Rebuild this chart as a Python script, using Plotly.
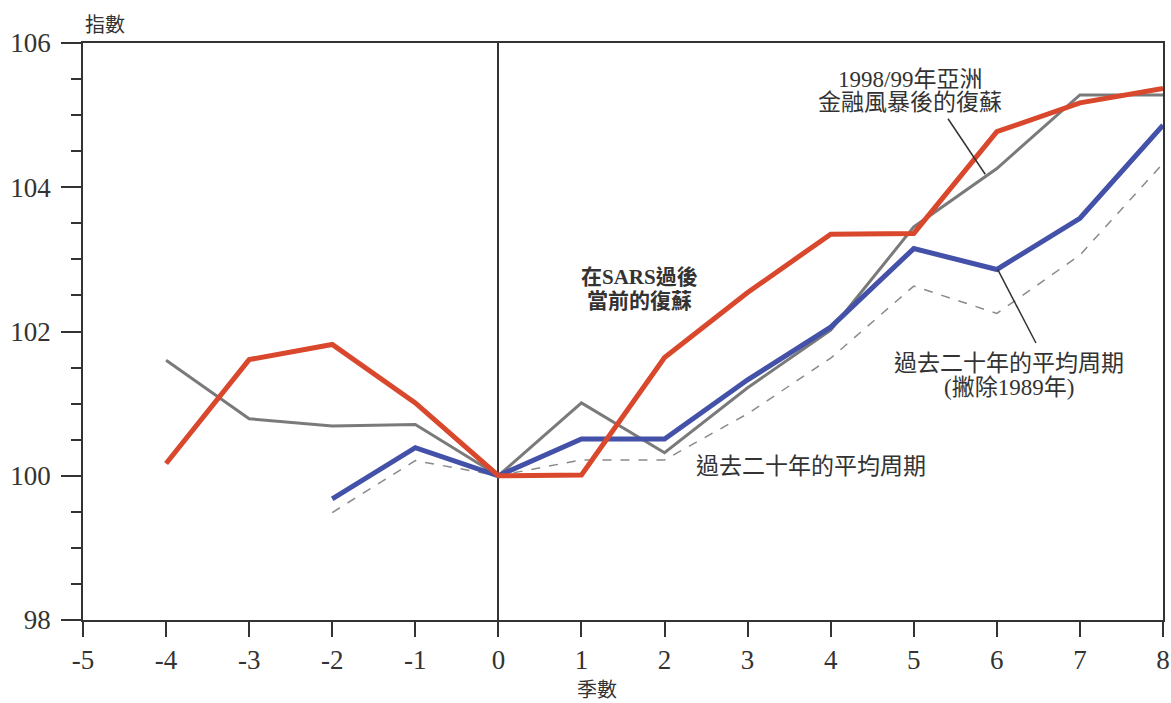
import plotly.graph_objects as go

# 季數
quarters_all = [-4, -3, -2, -1, 0, 1, 2, 3, 4, 5, 6, 7, 8]
quarters_short = [-2, -1, 0, 1, 2, 3, 4, 5, 6, 7, 8]

# 在SARS過後當前的復蘇
sars = [100.17, 101.61, 101.82, 101.01, 100.0, 100.01, 101.64, 102.54, 103.35, 103.36, 104.77, 105.17, 105.37]
# 1998/99年亞洲金融風暴後的復蘇
asia_9899 = [101.6, 100.79, 100.69, 100.71, 100.0, 101.01, 100.32, 101.22, 102.02, 103.45, 104.26, 105.28, 105.28]
# 過去二十年的平均周期(撇除1989年)
avg_ex1989 = [99.68, 100.39, 100.0, 100.51, 100.51, 101.33, 102.06, 103.15, 102.86, 103.57, 104.86]
# 過去二十年的平均周期
avg_20y = [99.49, 100.21, 100.0, 100.22, 100.22, 100.86, 101.63, 102.63, 102.25, 103.06, 104.33]

x_ticks = [-5, -4, -3, -2, -1, 0, 1, 2, 3, 4, 5, 6, 7, 8]
y_ticks = [98, 100, 102, 104, 106]

FONT = 'Liberation Serif, Noto Sans CJK TC'
AX = '#333333'

fig = go.Figure()
fig.add_trace(go.Scatter(x=quarters_short, y=avg_20y, mode='lines',
                         line=dict(color='#8a8a8a', width=1.5, dash='dash')))
fig.add_trace(go.Scatter(x=quarters_all, y=asia_9899, mode='lines',
                         line=dict(color='#7a7a7a', width=3)))
fig.add_trace(go.Scatter(x=quarters_short, y=avg_ex1989, mode='lines',
                         line=dict(color='#4451a8', width=5)))
fig.add_trace(go.Scatter(x=quarters_all, y=sars, mode='lines',
                         line=dict(color='#d9482c', width=5)))

annotations = [
    dict(text='1998/99年亞洲', x=4.95, y=105.5, font=dict(size=23)),
    dict(text='金融風暴後的復蘇', x=4.95, y=105.18, font=dict(size=23)),
    dict(text='<b>在SARS過後</b>', x=1.7, y=102.75, font=dict(size=21)),
    dict(text='<b>當前的復蘇</b>', x=1.7, y=102.42, font=dict(size=21)),
    dict(text='過去二十年的平均周期', x=2.35, y=100.13, xanchor='left', font=dict(size=23)),
    dict(text='過去二十年的平均周期', x=6.15, y=101.56, font=dict(size=23)),
    dict(text='(撇除1989年)', x=6.15, y=101.23, font=dict(size=23)),
]
for a in annotations:
    a.update(xref='x', yref='y', showarrow=False)
    a['font'].update(color='#333333', family=FONT)

# leader lines
for tip, tail in [((5.86, 104.18), (5.40, 104.97)), ((6.01, 102.86), (6.48, 101.82))]:
    annotations.append(dict(text='', x=tip[0], y=tip[1], ax=tail[0], ay=tail[1],
                            xref='x', yref='y', axref='x', ayref='y',
                            showarrow=True, arrowhead=0, arrowwidth=1.5,
                            arrowcolor=AX, standoff=0, startstandoff=0))

annotations.append(dict(text='指數', xref='paper', yref='paper', x=0, y=1,
                        xanchor='left', yanchor='bottom', yshift=5, showarrow=False,
                        font=dict(size=20, color='#333333', family=FONT)))
annotations.append(dict(text='季數', xref='paper', yref='paper', x=0.476, y=0,
                        xanchor='center', yanchor='middle', yshift=-70, showarrow=False,
                        font=dict(size=20, color='#333333', family=FONT)))

fig.update_layout(
    width=1171,
    height=703,
    showlegend=False,
    plot_bgcolor='white',
    paper_bgcolor='white',
    margin=dict(l=83, r=8, t=43, b=83, autoexpand=False),
    font=dict(family=FONT, size=27, color='#333333'),
    annotations=annotations,
    xaxis=dict(range=[-5, 8], tickvals=x_ticks, ticktext=[str(v) for v in x_ticks],
               ticks='outside', ticklen=15, automargin=False,
               tickcolor=AX, tickwidth=1.5, showline=True, linecolor=AX,
               linewidth=1.5, mirror=True, showgrid=False, zeroline=True,
               zerolinecolor=AX, zerolinewidth=1.5, tickfont=dict(size=27)),
    yaxis=dict(range=[98, 106], tickvals=y_ticks, ticks='outside', ticklen=20,
               automargin=False, ticklabelstandoff=5,
               tickcolor=AX, tickwidth=1.5, showline=True, linecolor=AX,
               linewidth=1.5, mirror=True, showgrid=False, zeroline=False,
               tickfont=dict(size=27),
               minor=dict(dtick=0.5, ticks='outside', ticklen=10,
                          tickcolor=AX, tickwidth=1.5, showgrid=False)),
)

# drop the browser's default body margin so the figure fills the window
fig.write_html('out.html', config={'displayModeBar': False},
               post_script="document.body.style.margin='0';")
